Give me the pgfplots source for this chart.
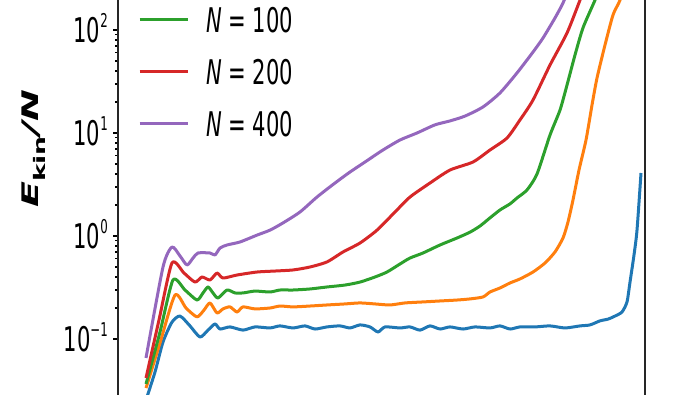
\documentclass[border=0pt]{standalone}
\usepackage{pgfplots}
\pgfplotsset{compat=1.18}
\usepackage{fontspec}
\setmainfont{DejaVu Sans}
\usepackage{graphicx}
\definecolor{tabblue}{HTML}{1F77B4}
\definecolor{taborange}{HTML}{FF7F0E}
\definecolor{tabgreen}{HTML}{2CA02C}
\definecolor{tabred}{HTML}{D62728}
\definecolor{tabpurple}{HTML}{9467BD}
\newcommand{\tl}[1]{\scalebox{0.62}[1]{10\raisebox{0.44em}{\fontsize{19}{19}\selectfont #1}}}
\newcommand{\legN}[1]{\scalebox{0.62}[1]{\textit{N} = #1}}
\begin{document}
\begin{tikzpicture}
\useasboundingbox (0pt,0pt) rectangle (700pt,395pt);
\clip (0pt,0pt) rectangle (700pt,395pt);
\begin{axis}[
  at={(118pt,-47pt)}, anchor=south west,
  scale only axis, width=527pt, height=515pt,
  xmin=118, xmax=645, ymin=1e-2, ymax=1e3, ymode=log,
  axis line style={line width=1.6pt, black!85},
  xtick=\empty,
  ytick={0.1,1,10,100},
  yticklabels={\tl{−1},\tl{0},\tl{1},\tl{2}},
  ytick pos=left, tick align=outside,
  major tick length=5pt, minor tick length=3pt,
  every tick/.style={black, line width=1.3pt},
  yticklabel style={font=\fontsize{34}{40}\selectfont, anchor=base east, inner sep=0pt, yshift=-12.5pt, xshift=-5pt},
  ylabel={\scalebox{1}[0.6]{\fontsize{38}{44}\selectfont\bfseries\itshape E\textsubscript{\upshape kin}/N}},
  ylabel style={at={(axis description cs:-0.1594,0.569)}, anchor=center},
  legend style={draw=none, fill=none, at={(axis description cs:0.038,0.594)}, anchor=south west,
    inner sep=0pt, outer sep=0pt, row sep=27pt, /tikz/every odd column/.append style={column sep=17pt},
    nodes={inner sep=0pt, text height=25pt, text depth=0pt, font=\fontsize{34}{40}\selectfont}},
  legend cell align=left,
  legend image code/.code={\draw[#1] (0pt,0pt) -- (48pt,0pt);},
  every axis plot/.append style={line width=3pt, line join=round, smooth, tension=0.4},
]
\addplot[tabblue, forget plot] coordinates {(146,0.0256)(155,0.0478)(163,0.0935)(172,0.146)(180,0.167)(190,0.134)(200,0.1045)(208,0.122)(215,0.140)(220,0.125)(230,0.131)(243,0.122)(255,0.131)(270,0.128)(280,0.134)(293,0.128)(305,0.134)(315,0.125)(327,0.131)(340,0.134)(350,0.128)(360,0.137)(370,0.131)(378,0.117)(385,0.131)(400,0.128)(410,0.131)(420,0.122)(430,0.134)(440,0.125)(450,0.131)(463,0.125)(475,0.131)(490,0.128)(500,0.134)(510,0.125)(520,0.131)(535,0.131)(550,0.134)(565,0.128)(580,0.134)(590,0.137)(600,0.150)(608,0.156)(615,0.167)(622,0.183)(627,0.229)(630,0.357)(634,0.654)(637,1.14)(641,4.09)};
\addplot[taborange, forget plot] coordinates {(146,0.0334)(160,0.0915)(175,0.267)(186,0.200)(197,0.164)(204,0.191)(210,0.224)(217,0.179)(223,0.196)(230,0.205)(237,0.183)(243,0.205)(255,0.196)(270,0.200)(280,0.209)(293,0.205)(310,0.209)(327,0.214)(345,0.219)(360,0.224)(375,0.219)(390,0.214)(405,0.224)(423,0.229)(440,0.234)(457,0.239)(470,0.245)(483,0.256)(490,0.286)(500,0.313)(510,0.350)(520,0.383)(533,0.447)(545,0.547)(555,0.700)(563,0.956)(568,1.37)(573,2.24)(579,4.37)(586,8.55)(592,18.7)(597,34.2)(605,71.5)(613,140)(620,195)(628,342)};
\addplot[tabgreen] coordinates {(146,0.0366)(160,0.117)(173,0.374)(185,0.299)(197,0.239)(203,0.280)(208,0.320)(213,0.280)(218,0.250)(227,0.299)(235,0.280)(243,0.280)(255,0.292)(270,0.286)(280,0.299)(293,0.299)(310,0.306)(327,0.320)(345,0.334)(360,0.357)(375,0.400)(387,0.447)(400,0.535)(410,0.611)(423,0.684)(440,0.818)(457,0.956)(470,1.09)(480,1.25)(490,1.50)(500,1.79)(510,2.05)(517,2.34)(527,2.80)(537,4.00)(550,9.56)(560,16.7)(567,29.2)(575,57.2)(583,105)(595,195)(603,306)};
\addlegendentry{\legN{100}}
\addplot[tabred] coordinates {(146,0.0418)(159,0.153)(172,0.547)(184,0.437)(195,0.357)(202,0.400)(210,0.374)(217,0.437)(223,0.391)(237,0.418)(257,0.447)(275,0.457)(293,0.468)(310,0.500)(327,0.560)(343,0.700)(360,0.855)(377,1.14)(395,1.71)(410,2.39)(430,3.27)(450,4.37)(473,5.23)(490,6.84)(507,8.94)(520,13.4)(533,20.9)(550,45.7)(567,93.5)(580,195)(588,306)};
\addlegendentry{\legN{200}}
\addplot[tabpurple] coordinates {(146,0.0654)(163,0.50)(172,0.782)(180,0.640)(187,0.523)(193,0.611)(198,0.684)(210,0.684)(215,0.654)(220,0.764)(227,0.818)(240,0.875)(257,1.02)(270,1.14)(283,1.34)(300,1.71)(317,2.39)(335,3.27)(350,4.18)(365,5.23)(383,6.84)(400,8.55)(417,10.0)(435,12.0)(450,13.1)(465,14.6)(483,17.9)(500,24.5)(517,38.3)(533,61.1)(543,83.6)(555,131)(563,183)(570,273)};
\addlegendentry{\legN{400}}
\end{axis}
\end{tikzpicture}
\end{document}
